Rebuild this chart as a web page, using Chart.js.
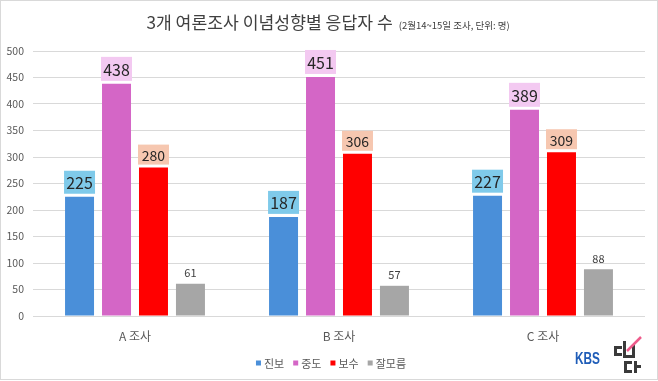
<!DOCTYPE html>
<html><head><meta charset="utf-8">
<script src="https://cdn.jsdelivr.net/npm/chart.js@4"></script>
<style>html,body{margin:0;padding:0;background:#fff}#wrap{width:658px;height:381px;position:relative}</style>
</head><body><div id="wrap"><canvas id="c" width="658" height="381"></canvas></div>
<script>
const categories = ['A 조사', 'B 조사', 'C 조사'];
const seriesNames = ['진보', '중도', '보수', '잘모름'];
const progressive = [225, 187, 227];
const moderate = [438, 451, 389];
const conservative = [280, 306, 309];
const unsure = [61, 57, 88];
const yTicks = [0, 50, 100, 150, 200, 250, 300, 350, 400, 450, 500];
const titleMain = '3개 여론조사 이념성향별 응답자 수';
const titleSub = '(2월14~15일 조사, 단위: 명)';

const barColors = ['#4a8fd9', '#d466c6', '#ff0000', '#a6a6a6'];
const labelBg = ['#7fcaea', '#f3c9f1', '#f6c7b0', null];
const labelFont = [16, 16, 14, 11];
const labelBoxH = [23, 24, 20, 0];
const FONT = '"Noto Sans CJK KR", "Noto Sans", sans-serif';

const valuesList = [progressive, moderate, conservative, unsure];

const decor = {
  id: 'decor',
  beforeDraw(chart) {
    const ctx = chart.ctx;
    ctx.save();
    ctx.fillStyle = '#fff';
    ctx.fillRect(0, 0, chart.width, chart.height);
    ctx.restore();
  },
  afterDatasetsDraw(chart) {
    const ctx = chart.ctx;
    ctx.save();
    chart.data.datasets.forEach((ds, di) => {
      const meta = chart.getDatasetMeta(di);
      meta.data.forEach((bar, i) => {
        const v = ds.data[i];
        const txt = String(v);
        ctx.font = labelFont[di] + 'px ' + FONT;
        ctx.textAlign = 'center';
        ctx.textBaseline = 'middle';
        const x = bar.x;
        if (labelBg[di]) {
          const h = labelBoxH[di];
          const w = Math.max(ctx.measureText(txt).width + 4, bar.width + 2);
          const bottom = bar.y - 3;
          ctx.fillStyle = labelBg[di];
          ctx.fillRect(x - w / 2, bottom - h, w, h);
          ctx.fillStyle = '#262626';
          ctx.fillText(txt, x, bottom - h / 2 + 1);
        } else {
          ctx.fillStyle = '#404040';
          ctx.fillText(txt, x, bar.y - 11);
        }
      });
    });
    ctx.restore();
  },
  afterDraw(chart) {
    const ctx = chart.ctx;
    ctx.save();
    // title
    ctx.textBaseline = 'alphabetic';
    ctx.textAlign = 'left';
    ctx.font = '17.2px ' + FONT;
    const w1 = ctx.measureText(titleMain).width;
    ctx.font = '9.5px ' + FONT;
    const w2 = ctx.measureText(titleSub).width;
    const gap = 6;
    let tx = 328 - (w1 + gap + w2) / 2;
    ctx.fillStyle = '#404040';
    ctx.font = '17.2px ' + FONT;
    ctx.fillText(titleMain, tx, 29);
    ctx.font = '9.5px ' + FONT;
    ctx.fillText(titleSub, tx + w1 + gap, 29);
    // legend
    ctx.font = '11px ' + FONT;
    ctx.textBaseline = 'middle';
    const items = chart.data.datasets.map(d => ({ label: d.label, color: d.backgroundColor }));
    const box = 5, boxGap = 3, itemGap = 9;
    let total = 0;
    items.forEach((it, k) => { total += box + boxGap + ctx.measureText(it.label).width + (k < items.length - 1 ? itemGap : 0); });
    let lx = 331 - total / 2;
    const ly = 363;
    items.forEach(it => {
      ctx.fillStyle = it.color;
      ctx.fillRect(lx, ly - box / 2, box, box);
      lx += box + boxGap;
      ctx.fillStyle = '#595959';
      ctx.fillText(it.label, lx, ly + 1);
      lx += ctx.measureText(it.label).width + itemGap;
    });
    // KBS logo
    ctx.font = 'bold 17px "Liberation Sans", Arial, sans-serif';
    ctx.fillStyle = '#1f5db8';
    ctx.textBaseline = 'alphabetic';
    ctx.fillText('KBS', 575, 364, 25);
    ctx.fillStyle = '#3a3a3a';
    // stylised mark
    ctx.fillRect(614, 346, 3, 10);
    ctx.fillRect(614, 346, 8, 3);
    ctx.fillRect(614, 353, 8, 3);
    ctx.fillRect(623, 341, 3, 17);
    ctx.fillRect(632, 345, 3, 13);
    ctx.fillRect(623, 355, 12, 3);
    ctx.fillRect(624, 361, 3, 12);
    ctx.fillRect(624, 361, 8, 3);
    ctx.fillRect(624, 370, 8, 3);
    ctx.fillRect(634, 361, 3, 12);
    ctx.fillRect(637, 365, 4, 3);
    ctx.strokeStyle = '#ee5c8c';
    ctx.lineWidth = 2.5;
    ctx.beginPath();
    ctx.moveTo(627, 351);
    ctx.lineTo(641, 337);
    ctx.stroke();
    // frame
    ctx.strokeStyle = '#d9d9d9';
    ctx.lineWidth = 1;
    ctx.strokeRect(0.5, 0.5, chart.width - 1, chart.height - 2);
    ctx.restore();
  }
};

new Chart(document.getElementById('c'), {
  type: 'bar',
  data: {
    labels: categories,
    datasets: seriesNames.map((name, i) => ({
      label: name,
      data: valuesList[i],
      backgroundColor: barColors[i],
      borderWidth: 0,
      barPercentage: 0.784,
      categoryPercentage: 0.725
    }))
  },
  options: {
    responsive: false,
    animation: false,
    devicePixelRatio: 1,
    layout: { padding: { top: 51, right: 13, bottom: 0, left: 0 } },
    plugins: { legend: { display: false }, title: { display: false }, tooltip: { enabled: false } },
    scales: {
      x: {
        grid: { display: false, drawTicks: false },
        border: { display: false },
        ticks: { font: { family: FONT, size: 12 }, color: '#595959', padding: 13 },
        afterFit(s) { s.height = 65; }
      },
      y: {
        min: 0, max: 500,
        afterBuildTicks(s) { s.ticks = yTicks.map(v => ({ value: v })); },
        grid: { color: '#d9d9d9', drawTicks: false },
        border: { display: false },
        ticks: { font: { family: FONT, size: 10.5 }, color: '#595959', padding: 9 },
        afterFit(s) { s.width = 33; }
      }
    }
  },
  plugins: [decor]
});
</script></body></html>
